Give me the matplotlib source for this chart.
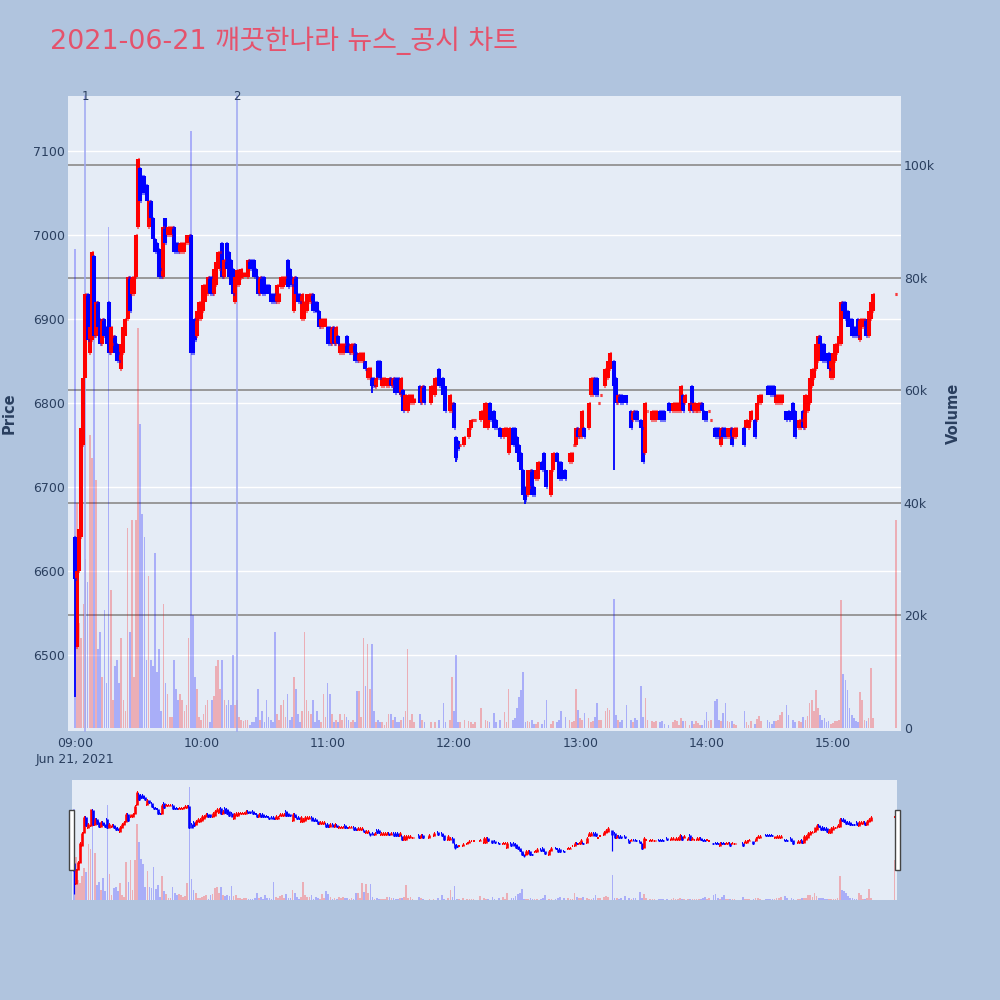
import matplotlib
matplotlib.use("Agg")
import matplotlib.pyplot as plt
import matplotlib.transforms as mtransforms
from matplotlib.collections import LineCollection
from matplotlib.patches import Rectangle

# ---------------- data (minutes after 09:00) ----------------
minutes = [0, 1, 2, 3, 4, 5, 6, 7, 8, 9,
           10, 11, 12, 13, 14, 15, 16, 17, 18, 19,
           20, 21, 22, 23, 24, 25, 26, 27, 28, 29,
           30, 31, 32, 33, 34, 35, 36, 37, 38, 39,
           40, 41, 42, 43, 44, 45, 46, 47, 48, 49,
           50, 51, 52, 53, 54, 55, 56, 57, 58, 59,
           60, 61, 62, 63, 64, 65, 66, 67, 68, 69,
           70, 71, 72, 73, 74, 75, 76, 77, 78, 79,
           80, 81, 82, 83, 84, 85, 86, 87, 88, 89,
           90, 91, 92, 93, 94, 95, 96, 97, 98, 99,
           100, 101, 102, 103, 104, 105, 106, 107, 108, 109,
           110, 111, 112, 113, 114, 115, 116, 117, 118, 119,
           120, 121, 122, 123, 124, 125, 126, 127, 128, 129,
           130, 131, 132, 133, 134, 135, 136, 137, 138, 139,
           140, 141, 142, 143, 144, 145, 146, 147, 148, 149,
           150, 151, 152, 153, 154, 155, 156, 157, 158, 159, 160, 161,
           164, 165, 166, 169, 171, 173, 175, 176, 178, 179,
           180, 181, 182, 183, 185, 187, 188, 189, 190, 193,
           195, 196, 197, 199, 200, 202, 204, 205, 206, 208,
           209, 210, 211, 212, 213, 214, 215, 216, 217, 218,
           219, 220, 222, 223, 224, 226, 227, 229, 230, 231,
           233, 235, 236, 237, 238, 239, 240, 241, 242, 244,
           245, 246, 247, 248, 249, 250, 252, 253, 254, 256,
           257, 258, 259, 260, 262, 264, 265, 266, 267, 269,
           270, 271, 272, 274, 275, 276, 278, 279, 280, 282,
           284, 285, 286, 287, 288, 289, 290, 292, 293, 294,
           295, 296, 297, 298, 299, 300, 301, 302, 304, 305,
           306, 307, 308, 309, 310, 311, 312, 313, 314, 318,
           319, 320, 321, 323, 324, 325, 326, 329, 330, 331,
           332, 333, 334, 335, 336, 338, 339, 341, 342, 344,
           345, 346, 347, 348, 349, 350, 351, 352, 353, 354,
           355, 356, 357, 358, 359, 360, 361, 362, 363, 364,
           365, 366, 367, 368, 369, 370, 371, 372, 373, 374,
           375, 376, 377, 378, 379, 390]

opens = [6640, 6510, 6600, 6640, 6750, 6830, 6930, 6860, 6875, 6975,
         6880, 6920, 6900, 6870, 6900, 6890, 6920, 6860, 6870, 6880,
         6870, 6860, 6840, 6860, 6880, 6900, 6950, 6930, 6930, 6950,
         7010, 7080, 7070, 7070, 7060, 7010, 7040, 7020, 6995, 6990,
         6983, 6960, 6950, 7020, 7000, 7000, 7000, 7010, 6990, 6990,
         6980, 6980, 6980, 6990, 6990, 7000, 6890, 6900, 6880, 6900,
         6900, 6910, 6920, 6930, 6950, 6950, 6930, 6940, 6962, 6960,
         6990, 6950, 6990, 6980, 6970, 6960, 6920, 6940, 6940, 6949,
         6950, 6950, 6950, 6970, 6970, 6970, 6960, 6950, 6930, 6950,
         6950, 6940, 6940, 6930, 6930, 6930, 6920, 6920, 6938, 6938,
         6940, 6970, 6960, 6950, 6910, 6950, 6930, 6930, 6900, 6900,
         6910, 6920, 6920, 6930, 6920, 6920, 6910, 6890, 6890, 6890,
         6890, 6890, 6870, 6890, 6870, 6880, 6860, 6860, 6860, 6880,
         6870, 6860, 6860, 6870, 6860, 6850, 6850, 6850, 6850, 6830,
         6830, 6830, 6830, 6819, 6850, 6850, 6820, 6820, 6820, 6820,
         6830, 6820, 6830, 6830, 6830, 6810, 6815, 6790, 6790, 6800, 6800, 6800,
         6820, 6800, 6820, 6800, 6810, 6840, 6830, 6820, 6790, 6790,
         6800, 6760, 6755, 6750, 6750, 6760, 6770, 6780, 6780, 6780,
         6770, 6770, 6800, 6790, 6780, 6770, 6760, 6760, 6740, 6770,
         6770, 6760, 6750, 6740, 6720, 6700, 6690, 6700, 6720, 6700,
         6710, 6710, 6730, 6740, 6720, 6690, 6720, 6740, 6730, 6730,
         6720, 6730, 6730, 6750, 6750, 6770, 6760, 6760, 6770, 6770,
         6810, 6810, 6830, 6830, 6800, 6810, 6820, 6830, 6840, 6850,
         6830, 6800, 6810, 6810, 6810, 6790, 6780, 6790, 6790, 6780,
         6770, 6740, 6790, 6780, 6780, 6780, 6790, 6790, 6790, 6800,
         6790, 6790, 6790, 6790, 6790, 6810, 6800, 6790, 6820, 6790,
         6790, 6790, 6790, 6800, 6790, 6790, 6790, 6780, 6770, 6770,
         6770, 6750, 6770, 6770, 6760, 6760, 6770, 6760, 6760, 6770,
         6770, 6770, 6780, 6780, 6780, 6800, 6800, 6820, 6820, 6820,
         6820, 6800, 6800, 6800, 6800, 6790, 6790, 6800, 6790, 6770,
         6770, 6790, 6770, 6790, 6800, 6820, 6830, 6840, 6850, 6880,
         6870, 6870, 6860, 6860, 6830, 6830, 6850, 6860, 6870, 6870,
         6920, 6920, 6910, 6900, 6900, 6890, 6890, 6900, 6875, 6890,
         6890, 6900, 6880, 6900, 6910, 6930]

closes = [6590, 6600, 6650, 6770, 6830, 6930, 6875, 6890, 6980, 6880,
          6920, 6890, 6870, 6900, 6880, 6870, 6860, 6890, 6880, 6860,
          6850, 6850, 6870, 6890, 6900, 6950, 6910, 6950, 6950, 7000,
          7090, 7040, 7050, 7050, 7040, 7040, 7020, 6995, 6980, 6980,
          6950, 6950, 7010, 6990, 7010, 7010, 7010, 6980, 6980, 6980,
          6990, 6990, 6990, 7000, 7000, 6860, 6860, 6875, 6910, 6920,
          6920, 6940, 6940, 6950, 6930, 6930, 6960, 6968, 6980, 6980,
          6950, 6970, 6960, 6950, 6940, 6930, 6950, 6958, 6958, 6960,
          6955, 6955, 6970, 6960, 6960, 6950, 6950, 6930, 6950, 6930,
          6930, 6930, 6930, 6920, 6920, 6920, 6940, 6930, 6950, 6950,
          6950, 6938, 6940, 6940, 6950, 6930, 6920, 6920, 6930, 6920,
          6930, 6930, 6930, 6910, 6910, 6908, 6890, 6900, 6900, 6900,
          6870, 6870, 6890, 6870, 6890, 6870, 6870, 6870, 6870, 6860,
          6860, 6870, 6870, 6850, 6850, 6860, 6860, 6860, 6840, 6842,
          6842, 6820, 6820, 6830, 6830, 6830, 6830, 6830, 6830, 6830,
          6820, 6830, 6812, 6815, 6812, 6830, 6790, 6810, 6810, 6810, 6810, 6805,
          6800, 6820, 6800, 6820, 6830, 6820, 6810, 6790, 6810, 6800,
          6770, 6735, 6745, 6750, 6760, 6770, 6780, 6780, 6780, 6790,
          6800, 6800, 6780, 6770, 6770, 6760, 6770, 6770, 6770, 6750,
          6750, 6740, 6730, 6720, 6690, 6685, 6720, 6720, 6690, 6690,
          6720, 6730, 6720, 6720, 6700, 6720, 6740, 6730, 6710, 6710,
          6710, 6740, 6740, 6750, 6770, 6760, 6770, 6790, 6760, 6800,
          6830, 6830, 6810, 6810, 6800, 6810, 6840, 6850, 6860, 6820,
          6800, 6810, 6800, 6800, 6800, 6770, 6790, 6780, 6780, 6770,
          6730, 6800, 6790, 6790, 6790, 6790, 6780, 6780, 6780, 6790,
          6800, 6800, 6800, 6800, 6820, 6790, 6810, 6800, 6790, 6800,
          6790, 6800, 6800, 6790, 6780, 6780, 6790, 6780, 6760, 6760,
          6760, 6770, 6760, 6760, 6770, 6770, 6750, 6770, 6770, 6750,
          6780, 6780, 6790, 6760, 6800, 6810, 6810, 6810, 6810, 6810,
          6810, 6810, 6810, 6810, 6810, 6780, 6780, 6780, 6760, 6780,
          6780, 6770, 6810, 6810, 6830, 6840, 6840, 6870, 6880, 6870,
          6850, 6850, 6850, 6840, 6850, 6860, 6870, 6870, 6880, 6920,
          6910, 6900, 6890, 6890, 6880, 6880, 6880, 6880, 6900, 6900,
          6900, 6880, 6910, 6920, 6930, 6930]

volumes_k = [85, 40, 18.6, 16, 22, 30, 26, 52, 48, 70,
             44, 14, 17, 9, 21, 8, 89, 24.5, 5, 11,
             12, 8, 16, 5, 3, 35.5, 17, 37, 9, 37,
             71, 54, 38, 34, 12, 27, 12, 11, 31, 10,
             14, 3, 22, 8, 6, 2, 2, 12, 7, 5,
             6, 5, 3, 4, 16, 106, 20, 9, 7, 2,
             1.5, 2.5, 4, 5, 1, 5, 5.6, 11, 12, 7,
             12, 5, 4, 5, 4, 13, 4, 5, 2, 1.5,
             1.2, 1.5, 1.5, 0.5, 1, 1, 2, 7, 1.5, 3,
             1, 5, 2, 1.5, 1, 17, 2.5, 1.5, 4, 5,
             2, 6, 1.5, 2, 9, 7, 2.5, 1, 3, 17,
             5, 3, 2.5, 5, 1, 3, 1.5, 1, 6, 2,
             8, 6, 2.5, 1, 1.5, 1, 2.5, 1.5, 2.5, 2,
             1.5, 1, 1.5, 1, 6.5, 6.5, 2, 16, 7.5, 15,
             7, 15, 3, 1, 1.5, 1, 1, 0.5, 1, 2.5,
             2.5, 1.5, 2, 1, 1, 1.5, 2, 3, 14, 1.5, 2.5, 1,
             2.5, 1.5, 1, 1, 1, 1.5, 4.4, 1, 1.5, 9,
             3, 13, 1, 1, 1.5, 1.2, 1, 0.8, 1, 3.5,
             1.5, 1.2, 1, 2.7, 1, 1.5, 2.8, 1, 7, 1.5,
             1.8, 3.5, 5.5, 6.7, 9.9, 1, 1.2, 1, 1.5, 0.8,
             0.8, 1, 0.8, 1.5, 5, 0.7, 1.2, 1, 1.5, 3,
             2, 1.5, 1, 1.2, 7, 3.2, 1.8, 1.5, 2.7, 1.8,
             1, 1.3, 2, 4.4, 1.5, 1.5, 3, 3.5, 3.2, 23,
             2.3, 1.5, 1, 1.5, 4, 1.5, 1, 1.8, 1.5, 7.5,
             2, 5.3, 1.5, 1.3, 1, 1.2, 1, 1.2, 0.8, 0.5,
             1, 1.5, 1.2, 0.6, 1.8, 1.3, 1.2, 0.5, 1.2, 0.8,
             1.2, 0.9, 0.6, 0.5, 1.5, 2.8, 1.3, 1.5, 4.8, 5.2,
             1.5, 1.2, 2.7, 4.4, 1.3, 1, 1.2, 0.8, 0.6, 3,
             1, 0.6, 1.2, 0.8, 1.6, 2.2, 1.2, 1.4, 1, 0.8,
             1.2, 1.3, 1.5, 2.3, 2.8, 4, 2.3, 1.5, 1, 1.2,
             1.1, 2, 1.5, 2.2, 4.5, 5, 3, 6.7, 3.5, 2.3,
             1.5, 1.8, 1, 1.3, 0.8, 0.9, 1.3, 1.3, 1.5, 22.7,
             9.6, 8.5, 6.7, 3.5, 2.3, 1.8, 1.2, 1, 6.4, 5,
             1.4, 1.2, 1.8, 10.7, 1.8, 37]

wick_minutes = [0, 141, 181, 214, 256]
wick_lows = [6450, 6812, 6730, 6680, 6720]

news_minutes = [5, 77]
news_labels = ["1", "2"]

tick_minutes = [0, 60, 120, 180, 240, 300, 360]
tick_labels = ["09:00\nJun 21, 2021", "10:00", "11:00", "12:00", "13:00", "14:00", "15:00"]
price_ticks = [6500, 6600, 6700, 6800, 6900, 7000, 7100]
volume_ticks = [0, 20000, 40000, 60000, 80000, 100000]
volume_tick_labels = ["0", "20k", "40k", "60k", "80k", "100k"]

title = "2021-06-21 깨끗한나라 뉴스_공시 차트"

# ---------------- styling ----------------
BG = "#B0C4DE"
PLOT_BG = "#E5ECF6"
RED = "#FF0000"
BLUE = "#0000FF"
TXT = "#2A3F5F"
FONT = ["DejaVu Sans", "Noto Sans CJK KR"]
plt.rcParams["font.family"] = FONT

W, H = 1000, 1000
fig = plt.figure(figsize=(W / 100, H / 100), dpi=100, facecolor=BG)


def fbox(x0, y0, x1, y1):
    return [x0 / W, 1 - y1 / H, (x1 - x0) / W, (y1 - y0) / H]


XLIM = (-3.3, 392.4)
PLIM = (6409.5, 7165.5)
VLIM = (-530, 112250)

up = [c >= o for o, c in zip(opens, closes)]
cols = [RED if u else BLUE for u in up]
vols = [v * 1000 for v in volumes_k]


def draw_panel(axv, axp, lw_bar, lw_tick, tick_len, vol_width, grids):
    axv.set_facecolor(PLOT_BG)
    axp.patch.set_visible(False)
    axv.set_zorder(1)
    axp.set_zorder(2)
    blend_p = mtransforms.blended_transform_factory(axv.transAxes, axp.transData)
    if grids:
        for p in price_ticks:
            axv.plot([0, 1], [p, p], transform=blend_p, color="white", lw=1.0, zorder=0.5)
        for v in volume_ticks[1:]:
            axv.axhline(v, color="#929292", lw=1.3, zorder=0.6)
    vcols = [(1, 0, 0, 0.26) if u else (0, 0, 1, 0.26) for u in up]
    axv.bar(minutes, vols, width=vol_width, color=vcols, zorder=2, linewidth=0)
    # ohlc bars
    segs = [[(m, o), (m, c)] for m, o, c in zip(minutes, opens, closes)]
    axp.add_collection(LineCollection(segs, colors=cols, linewidths=lw_bar, capstyle="butt", zorder=3))
    ticks = []
    tcols = []
    for m, o, c, col in zip(minutes, opens, closes, cols):
        ticks.append([(m - tick_len, o), (m, o)])
        ticks.append([(m, c), (m + tick_len, c)])
        tcols += [col, col]
    axp.add_collection(LineCollection(ticks, colors=tcols, linewidths=lw_tick, capstyle="butt", zorder=3))
    wsegs = []
    wcols = []
    for wm, wl in zip(wick_minutes, wick_lows):
        i = minutes.index(wm)
        wsegs.append([(wm, wl), (wm, min(opens[i], closes[i]))])
        wcols.append(cols[i])
    axp.add_collection(LineCollection(wsegs, colors=wcols, linewidths=lw_bar * 0.45, zorder=3))
    for a in (axv, axp):
        for s in a.spines.values():
            s.set_visible(False)


# ---------------- main panel ----------------
axv = fig.add_axes(fbox(68, 96, 901, 731))
axp = axv.twinx()
axp.set_position(fbox(68, 96, 901, 731))
draw_panel(axv, axp, lw_bar=2.9, lw_tick=2.2, tick_len=0.45, vol_width=0.8, grids=True)

axv.set_xlim(*XLIM)
axp.set_xlim(*XLIM)
axp.set_ylim(*PLIM)
axv.set_ylim(*VLIM)

# price on the left, volume on the right
axp.yaxis.tick_left()
axp.yaxis.set_label_position("left")
axv.yaxis.tick_right()
axv.yaxis.set_label_position("right")
axp.set_yticks(price_ticks)
axp.set_yticklabels([str(p) for p in price_ticks])
axv.set_yticks(volume_ticks)
axv.set_yticklabels(volume_tick_labels)
axp.tick_params(axis="y", length=0, pad=2, labelsize=9, labelcolor=TXT)
axv.tick_params(axis="y", length=0, pad=2, labelsize=9, labelcolor=TXT)
axv.set_xticks(tick_minutes)
axv.set_xticklabels(tick_labels, linespacing=1.35)
axv.tick_params(axis="x", length=0, pad=4, labelsize=9, labelcolor=TXT)
axp.tick_params(axis="x", length=0, labelbottom=False)

fig.text(9 / W, 1 - 413 / H, "Price", rotation=90, ha="center", va="center",
         fontsize=10.5, fontweight="bold", color=TXT)
fig.text(953 / W, 1 - 413 / H, "Volume", rotation=90, ha="center", va="center",
         fontsize=10.5, fontweight="bold", color=TXT)

# news markers
blend_x = mtransforms.blended_transform_factory(axp.transData, axp.transAxes)
for nm, lab in zip(news_minutes, news_labels):
    axp.plot([nm, nm], [0, 1], transform=blend_x, color="#9EA6F2", lw=1.1, zorder=2.5, clip_on=False)
    axp.text(nm, 1.0, lab, transform=blend_x, ha="center", va="center", fontsize=8.5,
             color=TXT, zorder=4)

# title
fig.text(50 / W, 1 - 41 / H, title, ha="left", va="center", fontsize=19.4,
         color="#E5526C", family=["DejaVu Sans", "Noto Sans CJK KR"])

# ---------------- range slider ----------------
sv = fig.add_axes(fbox(72, 780, 897, 900))
sp = sv.twinx()
sp.set_position(fbox(72, 780, 897, 900))
draw_panel(sv, sp, lw_bar=1.9, lw_tick=1.4, tick_len=0.45, vol_width=0.8, grids=False)
for a in (sv, sp):
    a.set_xlim(-0.8, 391.2)
    a.set_xticks([])
    a.set_yticks([])
sp.set_ylim(*PLIM)
sv.set_ylim(0, 112250)

for x0 in (69, 895):
    fig.patches.append(Rectangle((x0 / W, 1 - 870 / H), 4.5 / W, 60 / H, transform=fig.transFigure,
                                 facecolor="white", edgecolor="#444444", lw=1.0, zorder=5))

fig.savefig("out.png", dpi=100, facecolor=BG)
